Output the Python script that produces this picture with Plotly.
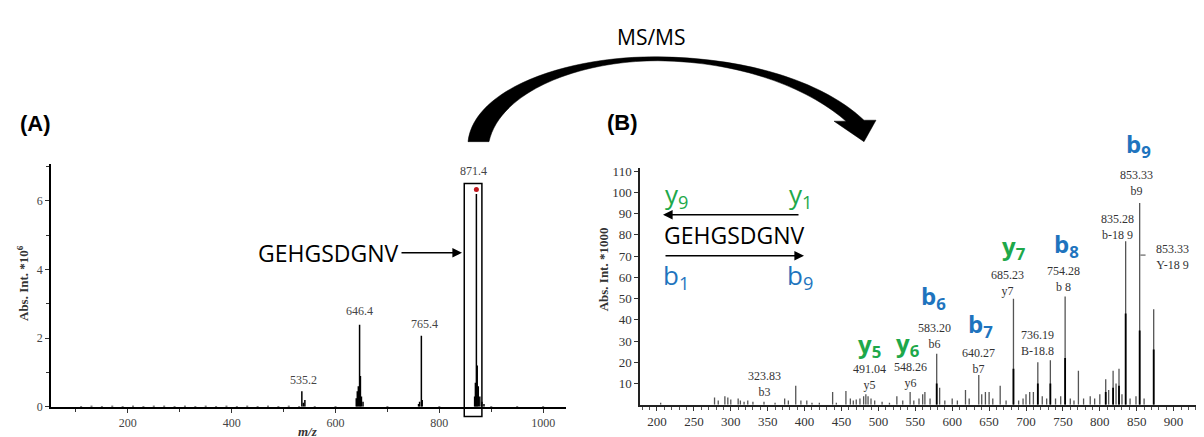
import plotly.graph_objects as go

W, H = 1204, 437

# ---------------- data ----------------
# Panel A: MS spectrum (m/z, intensity *10^6)
ms_mz = [535.2, 538, 541, 640, 642, 644, 646.4, 648, 650, 653, 760, 762, 765.4, 767,
         868, 869.5, 871.4, 873, 875, 878, 882, 886]
ms_int = [0.45, 0.12, 0.2, 0.25, 0.45, 0.6, 2.39, 0.9, 0.3, 0.15, 0.08, 0.15, 2.07, 0.2,
          0.3, 0.7, 6.2, 1.2, 0.6, 0.3, 0.15, 0.08]
ms_noise_mz = [110, 130, 150, 170, 190, 210, 230, 250, 270, 290, 310, 330, 350, 370, 390,
               410, 430, 450, 470, 490, 510, 530, 560, 600, 700, 800, 900, 950, 1000]
ms_noise_int = [0.02, 0.03, 0.02, 0.03, 0.02, 0.03, 0.02, 0.03, 0.03, 0.02, 0.03, 0.02, 0.03,
                0.02, 0.03, 0.02, 0.03, 0.02, 0.03, 0.02, 0.03, 0.02, 0.02, 0.02, 0.02, 0.02,
                0.02, 0.02, 0.02]
ms_labels = ["535.2", "646.4", "765.4", "871.4"]
ms_label_mz = [539, 646, 772, 865]
ms_label_y = [0.77, 2.78, 2.41, 6.88]
precursor_mz = 871.4
precursor_int = 6.33

# Panel B: MS/MS spectrum (m/z, intensity *1000)
msms_mz = [205, 278, 283, 292, 296, 300, 310, 313, 318, 323, 330, 345, 360, 373, 378, 388,
           395, 403, 410, 420, 438, 443, 456, 462, 466, 470, 475, 480, 483, 486, 490, 495,
           505, 515, 525, 533, 543, 548, 555, 560, 563, 570, 579, 583, 590, 600, 607, 618,
           623, 636, 640, 645, 650, 655, 665, 673, 683, 690, 696, 700, 705, 710, 716, 722,
           728, 733, 740, 747, 753, 760, 765, 771, 778, 787, 793, 800, 808, 812, 818, 822,
           826, 830, 835, 841, 849, 854, 860, 873]
msms_int = [1, 3.5, 2, 4, 3.5, 2.5, 3, 2, 1.5, 2, 1.5, 1.5, 1, 3, 2, 9,
            2, 2, 1, 1, 6, 1, 6.5, 3, 2, 2.5, 3, 4, 5, 4, 3, 2,
            1.5, 1, 4, 2, 6, 2, 3, 5, 6, 3, 24, 8, 2, 3, 2, 7,
            3, 14, 5, 6, 6, 3, 9, 2, 50, 2, 3, 5, 6, 6, 20, 4,
            3, 21, 3, 4, 51, 3, 2, 16, 3, 4, 3, 5, 12, 7, 16, 10,
            17, 5, 77, 3, 4, 95, 3, 45]
msms_dark_mz = [579, 683, 716, 733, 753, 808, 818, 826, 835, 854, 873]
msms_dark_int = [10, 17, 10, 10, 22, 6, 8, 9, 43, 35, 26]
msms_labels = ["323.83<br>b3", "491.04<br>y5", "548.26<br>y6", "583.20<br>b6",
               "640.27<br>b7", "685.23<br>y7", "754.28<br>b 8", "736.19<br>B-18.8",
               "835.28<br>b-18 9", "853.33<br>b9", "853.33<br>Y-18 9"]
msms_label_mz = [346, 488, 544, 576, 636, 675, 751, 716, 824, 850, 899]
msms_label_y = [9.6, 13.3, 14.2, 32.6, 20.6, 57.3, 59.2, 28.9, 83.9, 104.6, 69.7]

ion_labels = ["b<sub>9</sub>", "b<sub>8</sub>", "y<sub>7</sub>", "b<sub>6</sub>",
              "b<sub>7</sub>", "y<sub>6</sub>", "y<sub>5</sub>"]
ion_px = [1130, 1058, 1006, 925, 972, 900, 861]
ion_py = [136, 239, 241, 292, 321, 341, 342]

GREEN = "#1ea84a"
BLUE = "#1e74be"


def px(x):
    return x / W


def py(y):
    return 1 - y / H


def sticks(xs, ys):
    sx, sy = [], []
    for a, b in zip(xs, ys):
        sx += [a, a, None]
        sy += [0, b, None]
    return sx, sy


def A(**kw):
    d = dict(xanchor="center", yanchor="middle", showarrow=False)
    d.update(kw)
    return d


fig = go.Figure()

# Panel A traces
nx, ny = sticks(ms_noise_mz, ms_noise_int)
fig.add_trace(go.Scatter(x=nx, y=ny, mode="lines", line=dict(color="#222", width=2),
                         xaxis="x", yaxis="y", hoverinfo="skip"))
ax_, ay_ = sticks(ms_mz, ms_int)
fig.add_trace(go.Scatter(x=ax_, y=ay_, mode="lines", line=dict(color="black", width=1.5),
                         xaxis="x", yaxis="y"))
fig.add_trace(go.Scatter(x=[precursor_mz], y=[precursor_int], mode="markers",
                         marker=dict(color="#c0151b", size=5), xaxis="x", yaxis="y"))

# Panel B traces
bx, by = sticks(msms_mz, msms_int)
fig.add_trace(go.Scatter(x=bx, y=by, mode="lines", line=dict(color="#555", width=1.3),
                         xaxis="x2", yaxis="y2"))
dx, dy = sticks(msms_dark_mz, msms_dark_int)
fig.add_trace(go.Scatter(x=dx, y=dy, mode="lines", line=dict(color="black", width=1.8),
                         xaxis="x2", yaxis="y2"))

tickfontA = dict(family="Liberation Serif", size=12, color="#444")
tickfontB = dict(family="Liberation Serif", size=13, color="#333")

fig.update_layout(
    width=W, height=H, margin=dict(l=0, r=0, t=0, b=0),
    paper_bgcolor="white", plot_bgcolor="white", showlegend=False,
    xaxis=dict(domain=[px(43), px(558)], range=[52, 1044], anchor="y",
               showline=True, linecolor="black", linewidth=1.5, showgrid=False,
               zeroline=False, ticks="outside", ticklen=4, tickcolor="#333",
               tickvals=[200, 400, 600, 800, 1000], tickfont=tickfontA,
               minor=dict(dtick=100, tick0=0, ticks="outside", ticklen=3, tickcolor="#333")),
    yaxis=dict(domain=[py(405), py(156)], range=[0, 7.07], anchor="x",
               showline=True, linecolor="black", linewidth=1.5, showgrid=False,
               zeroline=False, ticks="outside", ticklen=4, tickcolor="#333",
               tickvals=[0, 2, 4, 6], tickfont=tickfontA,
               minor=dict(dtick=1, tick0=0, ticks="outside", ticklen=3, tickcolor="#333")),
    xaxis2=dict(domain=[px(632), 1.0], range=[177, 952], anchor="y2",
                showline=True, linecolor="#222", linewidth=1.5, showgrid=False,
                zeroline=False, ticks="outside", ticklen=4, tickcolor="#333",
                tick0=0, dtick=50, tickfont=tickfontB,
                minor=dict(dtick=10, tick0=0, ticks="outside", ticklen=3, tickcolor="#555")),
    yaxis2=dict(domain=[py(403), py(160)], range=[0, 111.5], anchor="x2",
                showline=True, linecolor="#222", linewidth=1.5, showgrid=False,
                zeroline=False, ticks="outside", ticklen=4, tickcolor="#333",
                tickvals=list(range(10, 111, 10)), tickfont=tickfontB),
)

ann = []
# Panel A labels
for t, x, y in zip(ms_labels, ms_label_mz, ms_label_y):
    ann.append(A(x=x, y=y, xref="x", yref="y", text=t,
                 font=dict(family="Liberation Serif", size=12, color="#444")))
ann.append(A(x=px(15), y=py(278), xref="paper", yref="paper", textangle=-90,
             text="<b>Abs. Int. *10<sup>6</sup></b>",
             font=dict(family="Liberation Serif", size=13, color="#333")))
ann.append(A(x=px(300), y=py(430), xref="paper", yref="paper",
             text="<b><i>m/z</i></b>",
             font=dict(family="Liberation Serif", size=13, color="#333")))
ann.append(A(x=px(320), y=py(247), xref="paper", yref="paper", text="GEHGSDGNV",
             font=dict(family="Open Sans", size=23, color="black")))
ann.append(dict(x=px(454), y=py(247), xref="paper", yref="paper", text="",
                ax=-62, ay=0, showarrow=True, arrowhead=2, arrowsize=1.2, arrowwidth=1.6,
                arrowcolor="black"))

# Panel B labels
for t, x, y in zip(msms_labels, msms_label_mz, msms_label_y):
    ann.append(A(x=x, y=y, xref="x2", yref="y2", text=t,
                 font=dict(family="Liberation Serif", size=12, color="#333")))
ann.append(A(x=px(595), y=py(264), xref="paper", yref="paper", textangle=-90,
             text="<b>Abs. Int. *1000</b>",
             font=dict(family="Liberation Serif", size=13, color="#333")))
for t, x, y in zip(ion_labels, ion_px, ion_py):
    col = BLUE if t.startswith("b") else GREEN
    ann.append(A(x=px(x), y=py(y), xref="paper", yref="paper", text="<b>" + t + "</b>",
                 font=dict(family="Open Sans", size=24, color=col)))

# inset sequence
ann.append(A(x=px(668), y=py(188), xref="paper", yref="paper", text="y<sub>9</sub>",
             font=dict(family="Open Sans", size=26, color=GREEN)))
ann.append(A(x=px(792), y=py(188), xref="paper", yref="paper", text="y<sub>1</sub>",
             font=dict(family="Open Sans", size=26, color=GREEN)))
ann.append(A(x=px(668), y=py(271), xref="paper", yref="paper", text="b<sub>1</sub>",
             font=dict(family="Open Sans", size=26, color=BLUE)))
ann.append(A(x=px(792), y=py(271), xref="paper", yref="paper", text="b<sub>9</sub>",
             font=dict(family="Open Sans", size=26, color=BLUE)))
ann.append(A(x=px(726), y=py(229), xref="paper", yref="paper", text="GEHGSDGNV",
             font=dict(family="Open Sans", size=23, color="black")))
ann.append(dict(x=px(655), y=py(208), xref="paper", yref="paper", text="",
                ax=137, ay=0, showarrow=True, arrowhead=2, arrowsize=1.2, arrowwidth=1.6,
                arrowcolor="black"))
ann.append(dict(x=px(796), y=py(250), xref="paper", yref="paper", text="",
                ax=-140, ay=0, showarrow=True, arrowhead=2, arrowsize=1.2, arrowwidth=1.6,
                arrowcolor="black"))

# panel letters and MS/MS
ann.append(A(x=px(27), y=py(114), xref="paper", yref="paper", text="<b>(A)</b>",
             font=dict(family="Liberation Sans", size=22, color="black")))
ann.append(A(x=px(614), y=py(113), xref="paper", yref="paper", text="<b>(B)</b>",
             font=dict(family="Liberation Sans", size=22, color="black")))
ann.append(A(x=px(644), y=py(26), xref="paper", yref="paper", text="MS/MS",
             font=dict(family="Open Sans", size=21, color="black")))

fig.update_layout(annotations=ann)


def P(x, y):
    return f"{px(x):.5f},{py(y):.5f}"


arc = ("M " + P(460, 133) + " C " + P(466, 78) + " " + P(560, 45) + " " + P(650, 46)
       + " C " + P(745, 47) + " " + P(818, 74) + " " + P(856, 111)
       + " L " + P(868, 111) + " L " + P(856, 133) + " L " + P(826, 112)
       + " L " + P(838, 112) + " C " + P(805, 82) + " " + P(740, 51) + " " + P(650, 50)
       + " C " + P(570, 50) + " " + P(492, 82) + " " + P(481, 133) + " Z")

shapes = [
    dict(type="path", path=arc, xref="paper", yref="paper", fillcolor="black",
         line=dict(color="black", width=0.5)),
    dict(type="rect", xref="x", yref="paper", x0=848, x1=882, y0=py(415), y1=py(176),
         line=dict(color="black", width=1.5)),
    dict(type="line", xref="x2", yref="y2", x0=855, x1=862, y0=70.5, y1=70.5,
         line=dict(color="#444", width=1)),
]
fig.update_layout(shapes=shapes)

fig.write_html("out.html")
